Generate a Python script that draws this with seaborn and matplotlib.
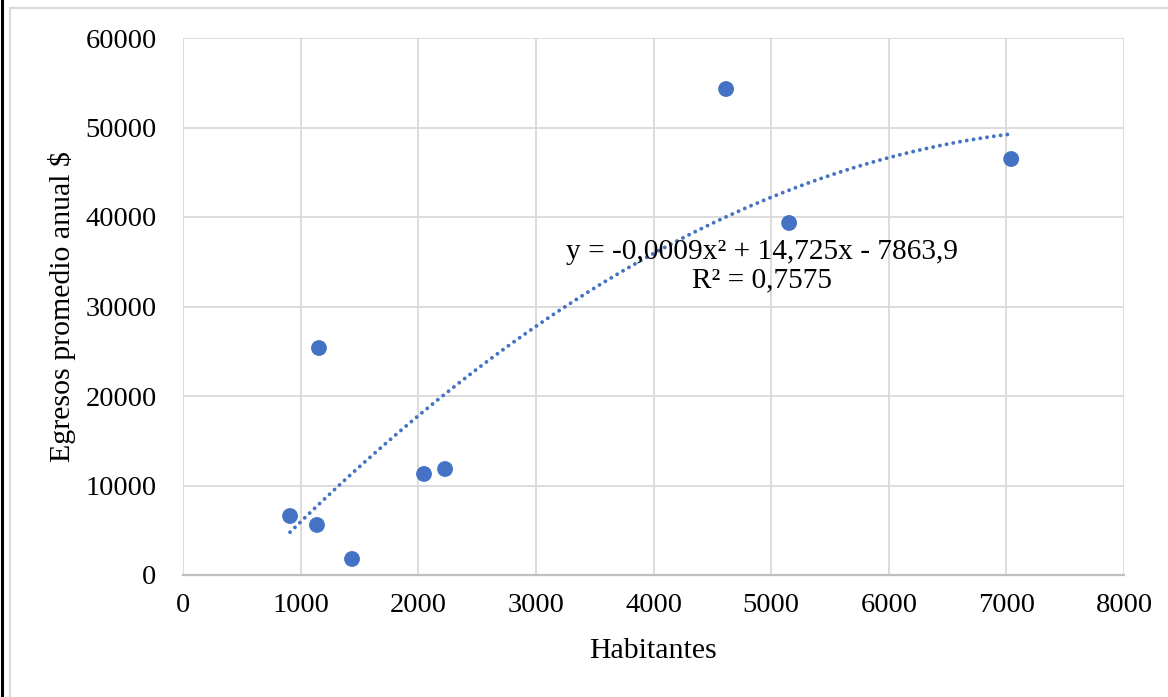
import matplotlib
matplotlib.use("Agg")
import matplotlib.pyplot as plt
import seaborn as sns
import pandas as pd
from matplotlib.patches import Rectangle
from matplotlib.lines import Line2D

# Data
habitantes = [910, 1139, 1156, 1437, 2049, 2228, 4617, 5153, 7041]
egresos = [6590, 5590, 25360, 1790, 11290, 11840, 54300, 39330, 46480]
x_ticks = [0, 1000, 2000, 3000, 4000, 5000, 6000, 7000, 8000]
y_ticks = [0, 10000, 20000, 30000, 40000, 50000, 60000]
equation = "y = -0,0009x\u00b2 + 14,725x - 7863,9\nR\u00b2 = 0,7575"

BLUE = "#4472C4"
GRID = "#d9d9d9"

df = pd.DataFrame({"Habitantes": habitantes, "Egresos": egresos})

sns.set_theme(style="white")
plt.rcParams["font.family"] = ["Liberation Serif", "DejaVu Serif"]

fig = plt.figure(figsize=(11.68, 6.97), dpi=100)
ax = fig.add_axes([183 / 1168, 1 - 575 / 697, (1124 - 183) / 1168, (575 - 38) / 697])

# Polynomial (order 2) trendline, round dotted
sns.regplot(data=df, x="Habitantes", y="Egresos", order=2, ci=None, scatter=False,
            truncate=True, ax=ax,
            line_kws={"color": BLUE, "linestyle": (0, (0.01, 1.75)), "linewidth": 2.8,
                      "dash_capstyle": "round", "zorder": 3})

sns.scatterplot(data=df, x="Habitantes", y="Egresos", ax=ax, color=BLUE, s=130,
                edgecolor="none", zorder=4)

ax.set_xlim(0, 8000)
ax.set_ylim(0, 60000)
ax.set_xticks(x_ticks)
ax.set_yticks(y_ticks)
ax.set_xticklabels([str(t) for t in x_ticks])
ax.set_yticklabels([str(t) for t in y_ticks])
ax.tick_params(axis="both", length=0, labelsize=20.5, colors="black")
ax.tick_params(axis="x", pad=13)
ax.tick_params(axis="y", pad=19)

ax.grid(True, color=GRID, linewidth=1.3)
ax.set_axisbelow(True)
for side in ["top", "right", "left"]:
    ax.spines[side].set_visible(False)
ax.spines["bottom"].set_color("#bfbfbf")
ax.spines["bottom"].set_linewidth(1.6)

ax.set_xlabel("Habitantes", fontsize=21.5, labelpad=14, color="black")
ax.set_ylabel("Egresos promedio anual $", fontsize=21.5, labelpad=7, color="black")

ax.text(4923, 34500, equation, ha="center", va="center", fontsize=21.2,
        linespacing=1.1, color="black", zorder=5)

# Chart frame like the original export
fig.patches.append(Rectangle((10 / 1168, -0.05), 1.2, 1 - 8 / 697 + 0.05,
                             transform=fig.transFigure, fill=False,
                             edgecolor=GRID, linewidth=1.6))
fig.lines.append(Line2D([1.5 / 1168, 1.5 / 1168], [0, 1], transform=fig.transFigure,
                        color="black", linewidth=2.2))

plt.savefig("out.png", dpi=100)
plt.close()
